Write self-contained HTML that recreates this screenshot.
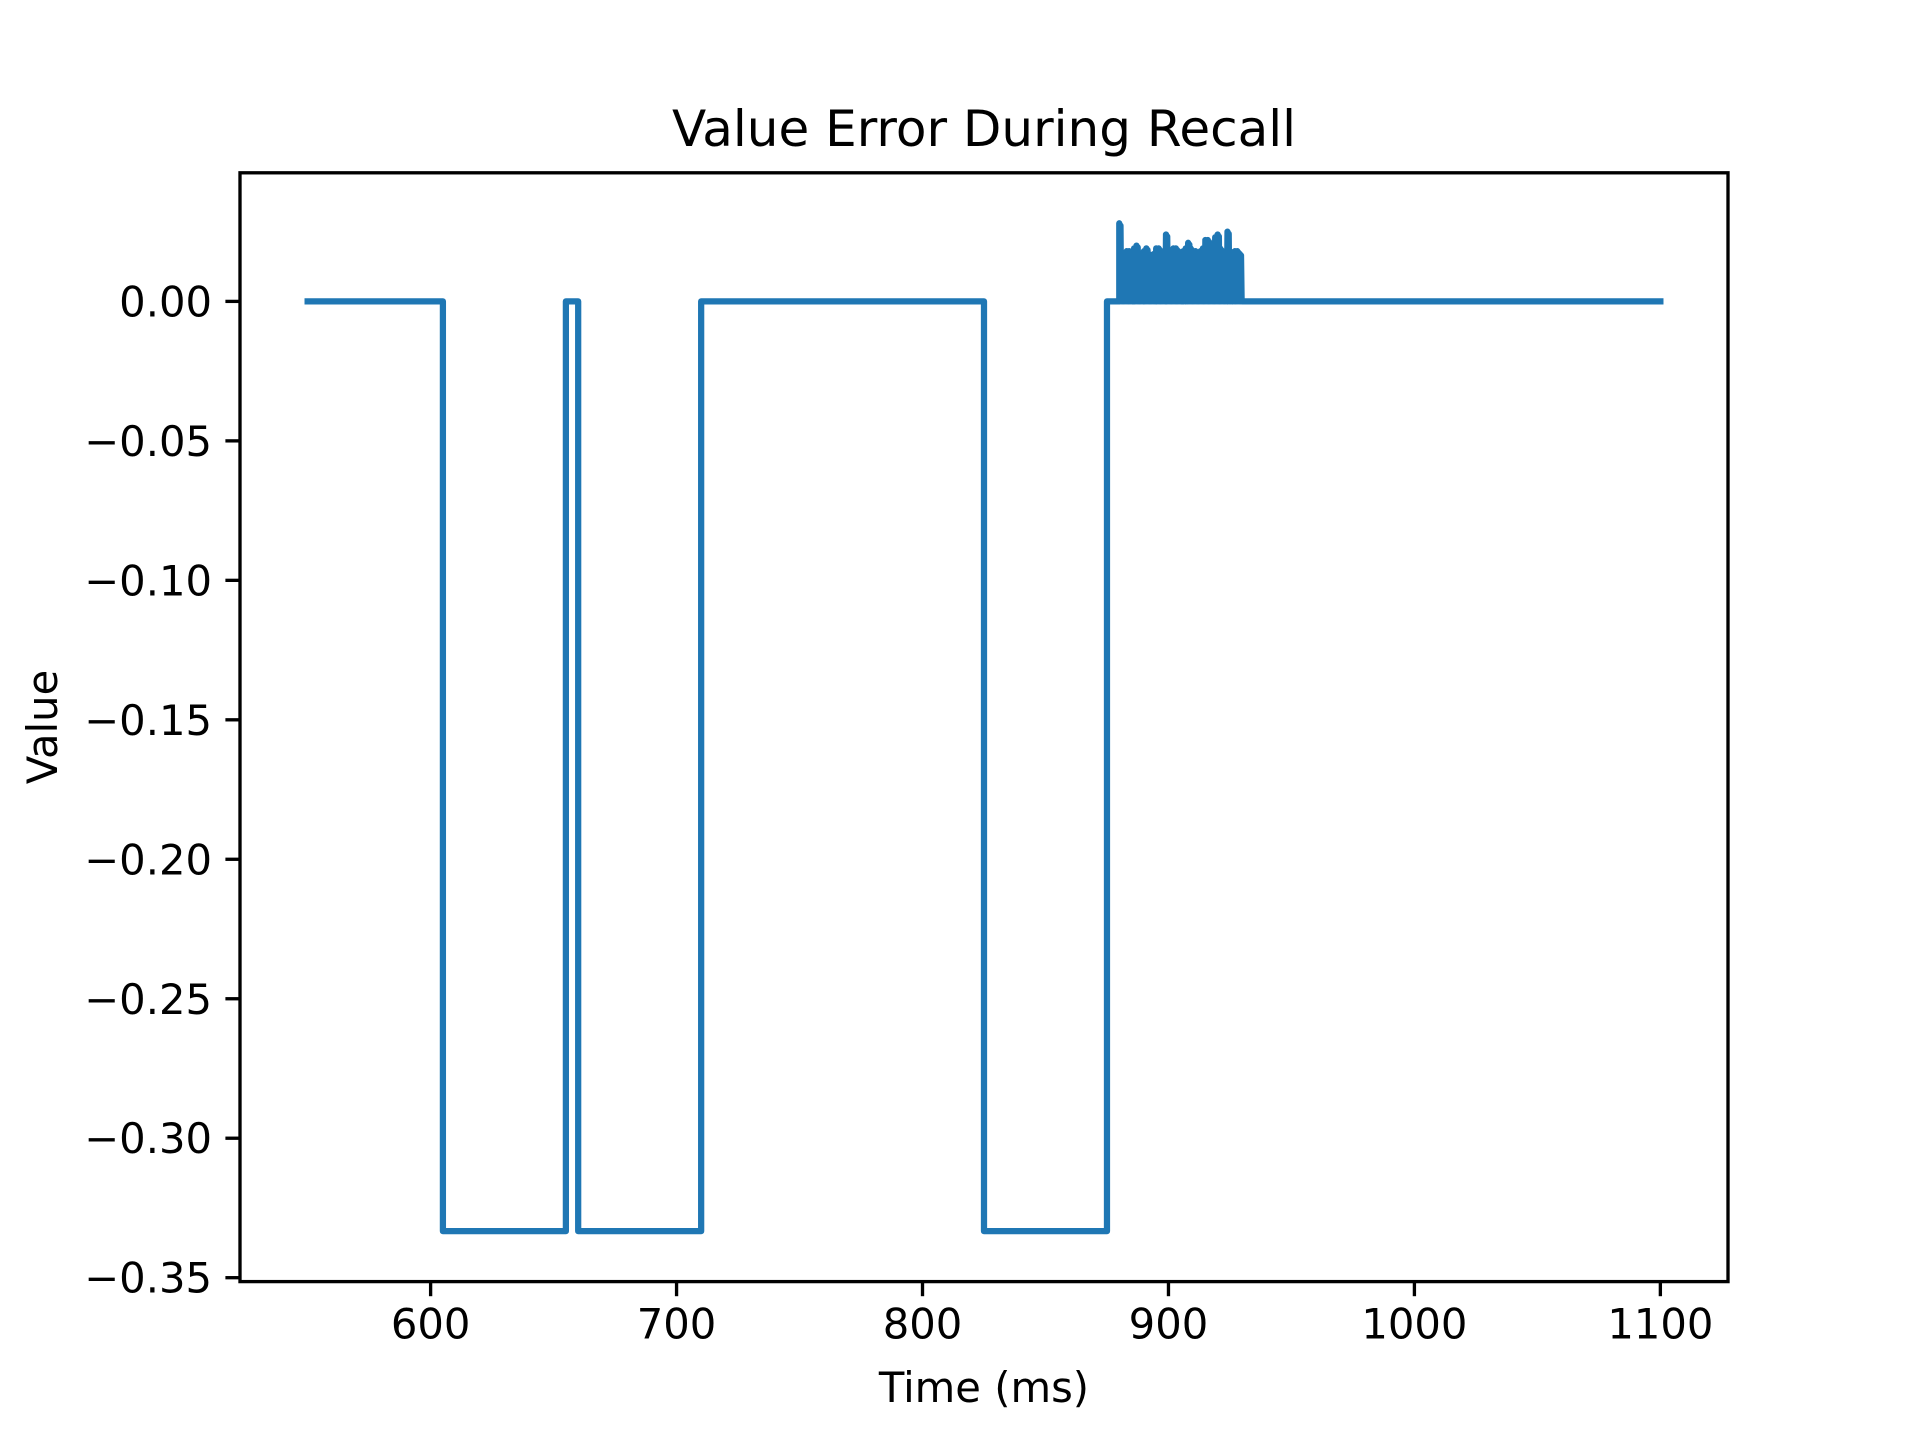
<!DOCTYPE html>
<html><head><meta charset="utf-8"><style>
html,body{margin:0;padding:0;background:#fff}
svg{display:block}
text{font-family:"DejaVu Sans","Liberation Sans",sans-serif;fill:#000}
</style></head><body>
<svg id="chart" width="1920" height="1440" viewBox="0 0 1920 1440" xmlns="http://www.w3.org/2000/svg">
<rect width="1920" height="1440" fill="#fff"/>
<text x="984" y="146" font-size="50" text-anchor="middle">Value Error During Recall</text>
<g id="xticks"></g>
<g id="yticks"></g>
<path id="series" fill="none" stroke="#1f77b4" stroke-width="6.25" stroke-linejoin="round" stroke-linecap="square"/>
<rect x="240" y="172.8" width="1488" height="1108.8" fill="none" stroke="#000" stroke-width="3.33"/>
<text x="984" y="1402" font-size="41.7" text-anchor="middle">Time (ms)</text>
<text transform="translate(57,727) rotate(-90)" font-size="41.7" text-anchor="middle">Value</text>
</svg>
<script>
const stepTimes = [550, 605, 655, 660, 710, 825, 875, 880];
const stepValues = [0, -0.3333, 0, -0.3333, 0, -0.3333, 0, 0];
const noiseStart = 880;
const noisePeaks = [0.028,0.017,0.017,0.018,0.018,0.017,0.019,0.020,0.017,0.017,0.018,0.019,0.017,0.016,0.017,0.019,0.019,0.017,0.017,0.024,0.017,0.017,0.019,0.019,0.018,0.017,0.018,0.019,0.021,0.019,0.018,0.018,0.017,0.018,0.019,0.022,0.022,0.019,0.018,0.023,0.024,0.019,0.018,0.017,0.025,0.018,0.017,0.018,0.018,0.017];
const endTime = 1100;
const xTicks = [600, 700, 800, 900, 1000, 1100];
const yTicks = [0, -0.05, -0.10, -0.15, -0.20, -0.25, -0.30, -0.35];

const L=240,R=1728,T=172.8,B=1281.6;
const xmin=522.5,xmax=1127.5,ymin=-0.3514,ymax=0.0461;
const X=v=>L+(v-xmin)/(xmax-xmin)*(R-L);
const Y=v=>B-(v-ymin)/(ymax-ymin)*(B-T);
const NS="http://www.w3.org/2000/svg";

let pts=[];
for(let i=0;i<stepTimes.length;i++){
  const t0=stepTimes[i], t1=(i+1<stepTimes.length)?stepTimes[i+1]:noiseStart;
  pts.push([t0,stepValues[i]]); pts.push([t1,stepValues[i]]);
}
noisePeaks.forEach((p,i)=>{
  const x=noiseStart+i;
  pts.push([x,p]);pts.push([x+0.25,0]);pts.push([x+0.5,p*0.97]);pts.push([x+0.75,0]);
});
pts.push([noiseStart+noisePeaks.length,0]);
pts.push([endTime,0]);
document.getElementById('series').setAttribute('d',pts.map((p,i)=>(i?'L':'M')+X(p[0]).toFixed(2)+','+Y(p[1]).toFixed(2)).join(''));

const fmtY=v=>(v<0?'\u2212':'')+Math.abs(v).toFixed(2);
const xg=document.getElementById('xticks');
xTicks.forEach(v=>{
  const l=document.createElementNS(NS,'line');
  
  
  l.setAttribute('x1',X(v));l.setAttribute('x2',X(v));l.setAttribute('y1',B);l.setAttribute('y2',B+14.6);
  l.setAttribute('stroke','#000');l.setAttribute('stroke-width','3.33');xg.appendChild(l);
  const t=document.createElementNS(NS,'text');
  
  
  t.setAttribute('x',X(v));t.setAttribute('y',B+57);t.setAttribute('font-size','41.7');t.setAttribute('text-anchor','middle');
  t.textContent=v;xg.appendChild(t);
});
const yg=document.getElementById('yticks');
yTicks.forEach(v=>{
  const l=document.createElementNS(NS,'line');
  
  
  l.setAttribute('x1',L-14.6);l.setAttribute('x2',L);l.setAttribute('y1',Y(v));l.setAttribute('y2',Y(v));
  l.setAttribute('stroke','#000');l.setAttribute('stroke-width','3.33');yg.appendChild(l);
  const t=document.createElementNS(NS,'text');
  
  
  t.setAttribute('x',L-28);t.setAttribute('y',Y(v)+15);t.setAttribute('font-size','41.7');t.setAttribute('text-anchor','end');
  t.textContent=fmtY(v);yg.appendChild(t);
});
</script>
</body></html>
